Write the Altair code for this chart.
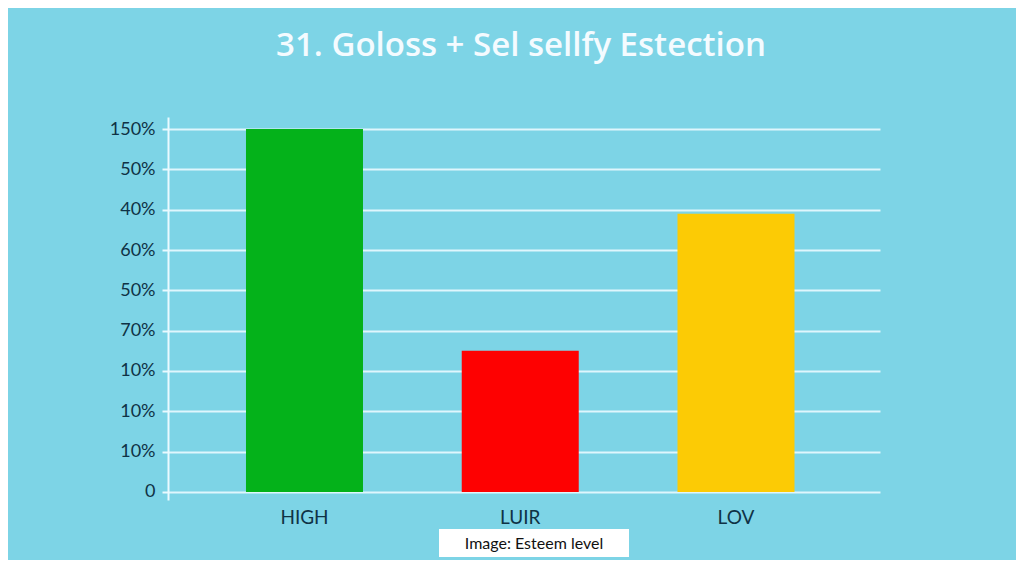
import altair as alt
import pandas as pd

categories = ["HIGH", "LUIR", "LOV"]
values = [9.0, 3.5, 6.9]
bar_colors = ["#04b21a", "#fe0101", "#fccb05"]
tick_values = [0, 1, 2, 3, 4, 5, 6, 7, 8, 9]
tick_labels = ["0", "10%", "10%", "10%", "70%", "50%", "60%", "40%", "50%", "150%"]
title_text = "31. Goloss + Sel sellfy Estection"
caption_text = "Image: Esteem level"

df = pd.DataFrame({"cat": categories, "val": values, "base": [0] * len(values)})

label_expr = "[" + ",".join(f"'{t}'" for t in tick_labels) + "][round(datum.value)]"

x_enc = alt.X("cat:N", sort=categories, title=None,
              scale=alt.Scale(paddingInner=0.4577, paddingOuter=0.3789, align=0.477),
              axis=alt.Axis(labelAngle=0, labelFontSize=19, labelColor="#0f3245",
                            labelFont="Lato", labelPadding=8, ticks=False,
                            domain=False, grid=False))
y_scale = alt.Scale(domain=[-0.2, 9.3], nice=False, zero=False)

bars = alt.Chart(df).mark_bar().encode(
    x=x_enc,
    y=alt.Y("val:Q", scale=y_scale, title=None,
            axis=alt.Axis(values=tick_values, labelExpr=label_expr, labelFontSize=18,
                          labelColor="#0f3245", labelFont="Lato", labelPadding=7,
                          tickSize=6, tickColor="#eafaff", tickWidth=2,
                          domainColor="#eafaff", domainWidth=2,
                          gridColor="#eafaff", gridWidth=2, gridOpacity=0.9)),
    y2="base:Q",
    color=alt.Color("cat:N", scale=alt.Scale(domain=categories, range=bar_colors), legend=None),
)

caption_df = pd.DataFrame({"t": [caption_text]})
box = alt.Chart(caption_df).mark_rect(color="white", clip=False).encode(
    x=alt.value(271), x2=alt.value(461), y=alt.value(412), y2=alt.value(440)
)
cap = alt.Chart(caption_df).mark_text(fontSize=16, font="Lato", color="#111111",
                                      clip=False).encode(
    x=alt.value(366), y=alt.value(427), text="t:N"
)

chart = alt.layer(bars, box, cap).properties(
    width=712, height=383,
    background="#7dd4e6",
    padding={"left": 160, "top": 109, "right": 136, "bottom": 60},
    autosize=alt.AutoSizeParams(type="none"),
    title=alt.TitleParams(title_text, fontSize=33, font="Open Sans", fontWeight=600,
                          color="#f4fbff", anchor="middle", offset=54, dx=-3),
).configure_view(stroke=None)

chart.save("out.html", embed_options={"renderer": "svg", "actions": False})
